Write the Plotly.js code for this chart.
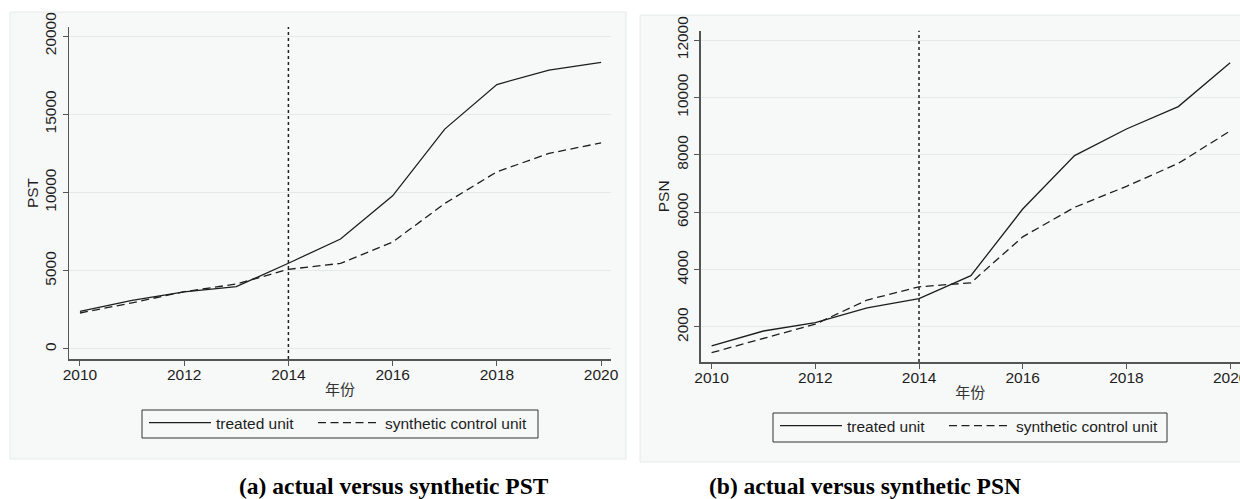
<!DOCTYPE html>
<html>
<head>
<meta charset="utf-8">
<script src="https://cdn.plot.ly/plotly-3.0.1.min.js"></script>
<style>
  html, body { margin: 0; padding: 0; background: #ffffff; overflow: hidden; width: 1240px; height: 499px; }
  #chart { width: 1240px; height: 499px; overflow: hidden; }
</style>
</head>
<body>
<div id="chart"></div>
<script>
// Years and the two outcome series for each panel
const years = [2010, 2011, 2012, 2013, 2014, 2015, 2016, 2017, 2018, 2019, 2020];
const pstTreated   = [2400, 3100, 3650, 3980, 5480, 7030, 9790, 14050, 16900, 17820, 18310];
const pstSynthetic = [2300, 2950, 3660, 4150, 5090, 5470, 6830, 9300, 11320, 12500, 13170];
const psnTreated   = [1340, 1860, 2150, 2670, 2990, 3790, 6110, 7970, 8900, 9680, 11210];
const psnSynthetic = [1105, 1600, 2100, 2940, 3400, 3540, 5140, 6170, 6900, 7700, 8830];
const treatmentYear = 2014;

const xTicks = [2010, 2012, 2014, 2016, 2018, 2020];
const pstTicks = [0, 5000, 10000, 15000, 20000];
const psnTicks = [2000, 4000, 6000, 8000, 10000, 12000];

const seriesNames = ['treated unit', 'synthetic control unit'];
const captions = ['(a) actual versus synthetic PST', '(b) actual versus synthetic PSN'];

const W = 1240, H = 499;
const panelBg = '#f7f8f8';
const gridColor = '#e4eaec';
const inkColor = '#1e1e1e';
const axisColor = '#555555';
const font = 'Liberation Sans, Arial, sans-serif';
const fontSize = 15.5;

function line(x, y, name, dashed, xa, ya, legend) {
  return {
    x: x, y: y, name: name, type: 'scatter', mode: 'lines',
    xaxis: xa, yaxis: ya, legend: legend,
    line: { color: inkColor, width: 1.3, dash: dashed ? '8px,4.5px' : 'solid' },
    hoverinfo: 'x+y'
  };
}

// each legend entry sits in its own legend so the entries can be spaced freely
const traces = [
  line(years, pstTreated, seriesNames[0], false, 'x', 'y', 'legend'),
  line(years, pstSynthetic, seriesNames[1], true, 'x', 'y', 'legend2'),
  line(years, psnTreated, seriesNames[0], false, 'x2', 'y2', 'legend3'),
  line(years, psnSynthetic, seriesNames[1], true, 'x2', 'y2', 'legend4')
];

function xAxis(domain, anchor) {
  return {
    domain: domain, anchor: anchor,
    range: [2009.79, 2020.19],
    tickvals: xTicks, tickformat: 'd', ticks: 'outside', ticklen: 5, tickwidth: 1, tickcolor: axisColor,
    ticklabeloverflow: 'allow', ticklabelstandoff: -4,
    showline: true, linecolor: axisColor, linewidth: 1.5,
    showgrid: false, zeroline: false,
    tickfont: { family: font, size: fontSize, color: inkColor },
    title: { text: '年份', font: { family: 'Noto Sans CJK SC, sans-serif', size: 15, color: '#333333' }, standoff: 2 }
  };
}

function yAxis(domain, anchor, range, ticks, title) {
  return {
    domain: domain, anchor: anchor, range: range,
    tickvals: ticks, tickformat: 'd', tickangle: -90, ticks: 'outside', ticklen: 5, tickwidth: 1, tickcolor: axisColor,
    showline: true, linecolor: axisColor, linewidth: 1.5,
    showgrid: true, gridcolor: gridColor, gridwidth: 1, zeroline: false,
    tickfont: { family: font, size: fontSize, color: inkColor },
    title: { text: title, font: { family: font, size: fontSize, color: inkColor }, standoff: 0 }
  };
}

function px(x) { return x / W; }
function py(y) { return 1 - y / H; }

function legendAt(left, top) {
  return {
    orientation: 'h', x: px(left), y: py(top), xanchor: 'left', yanchor: 'top',
    bgcolor: 'rgba(0,0,0,0)', borderwidth: 0,
    font: { family: font, size: fontSize, color: inkColor },
    itemwidth: 62
  };
}

function frame(x0, x1, y0, y1, fill, color) {
  return { type: 'rect', xref: 'paper', yref: 'paper', layer: 'below',
    x0: px(x0), x1: px(x1), y0: py(y1), y1: py(y0),
    fillcolor: fill, line: { color: color, width: 1 } };
}

const captionFont = { family: 'Liberation Serif, Times New Roman, serif', size: 23.5, color: '#000000' };

const layout = {
  width: W, height: H,
  margin: { l: 0, r: 0, t: 0, b: 0 },
  paper_bgcolor: '#ffffff',
  plot_bgcolor: panelBg,
  showlegend: true,
  xaxis: xAxis([px(69), px(611)], 'y'),
  yaxis: yAxis([py(359), py(27)], 'x', [-640, 20575], pstTicks, 'PST'),
  xaxis2: xAxis([px(700.7), 1], 'y2'),
  yaxis2: yAxis([py(362), py(30.7)], 'x2', [780, 12324], psnTicks, 'PSN'),
  legend: legendAt(144, 406),
  legend2: legendAt(313, 406),
  legend3: legendAt(775, 409),
  legend4: legendAt(944, 409),
  shapes: [
    // panel backgrounds
    frame(10, 626, 12, 459, panelBg, '#e6eaec'),
    frame(640, 1241, 15, 462, panelBg, '#e6eaec'),
    // legend frames
    frame(142, 538, 410, 438, 'rgba(0,0,0,0)', '#333333'),
    frame(773, 1167, 413, 442, 'rgba(0,0,0,0)', '#333333'),
    // treatment year markers
    { type: 'line', xref: 'x', yref: 'y domain', x0: treatmentYear, x1: treatmentYear, y0: 0, y1: 1,
      line: { color: '#222222', width: 1.5, dash: '3px,3px' } },
    { type: 'line', xref: 'x2', yref: 'y2 domain', x0: treatmentYear, x1: treatmentYear, y0: 0, y1: 1,
      line: { color: '#222222', width: 1.5, dash: '3px,3px' } }
  ],
  annotations: [
    { text: '<b>' + captions[0] + '</b>', xref: 'paper', yref: 'paper', x: px(394.5), y: py(486),
      xanchor: 'center', yanchor: 'middle', height: 26, showarrow: false, font: captionFont },
    { text: '<b>' + captions[1] + '</b>', xref: 'paper', yref: 'paper', x: px(865), y: py(486),
      xanchor: 'center', yanchor: 'middle', height: 26, showarrow: false, font: captionFont }
  ]
};

Plotly.newPlot('chart', traces, layout, { displayModeBar: false, staticPlot: true });
</script>
</body>
</html>
